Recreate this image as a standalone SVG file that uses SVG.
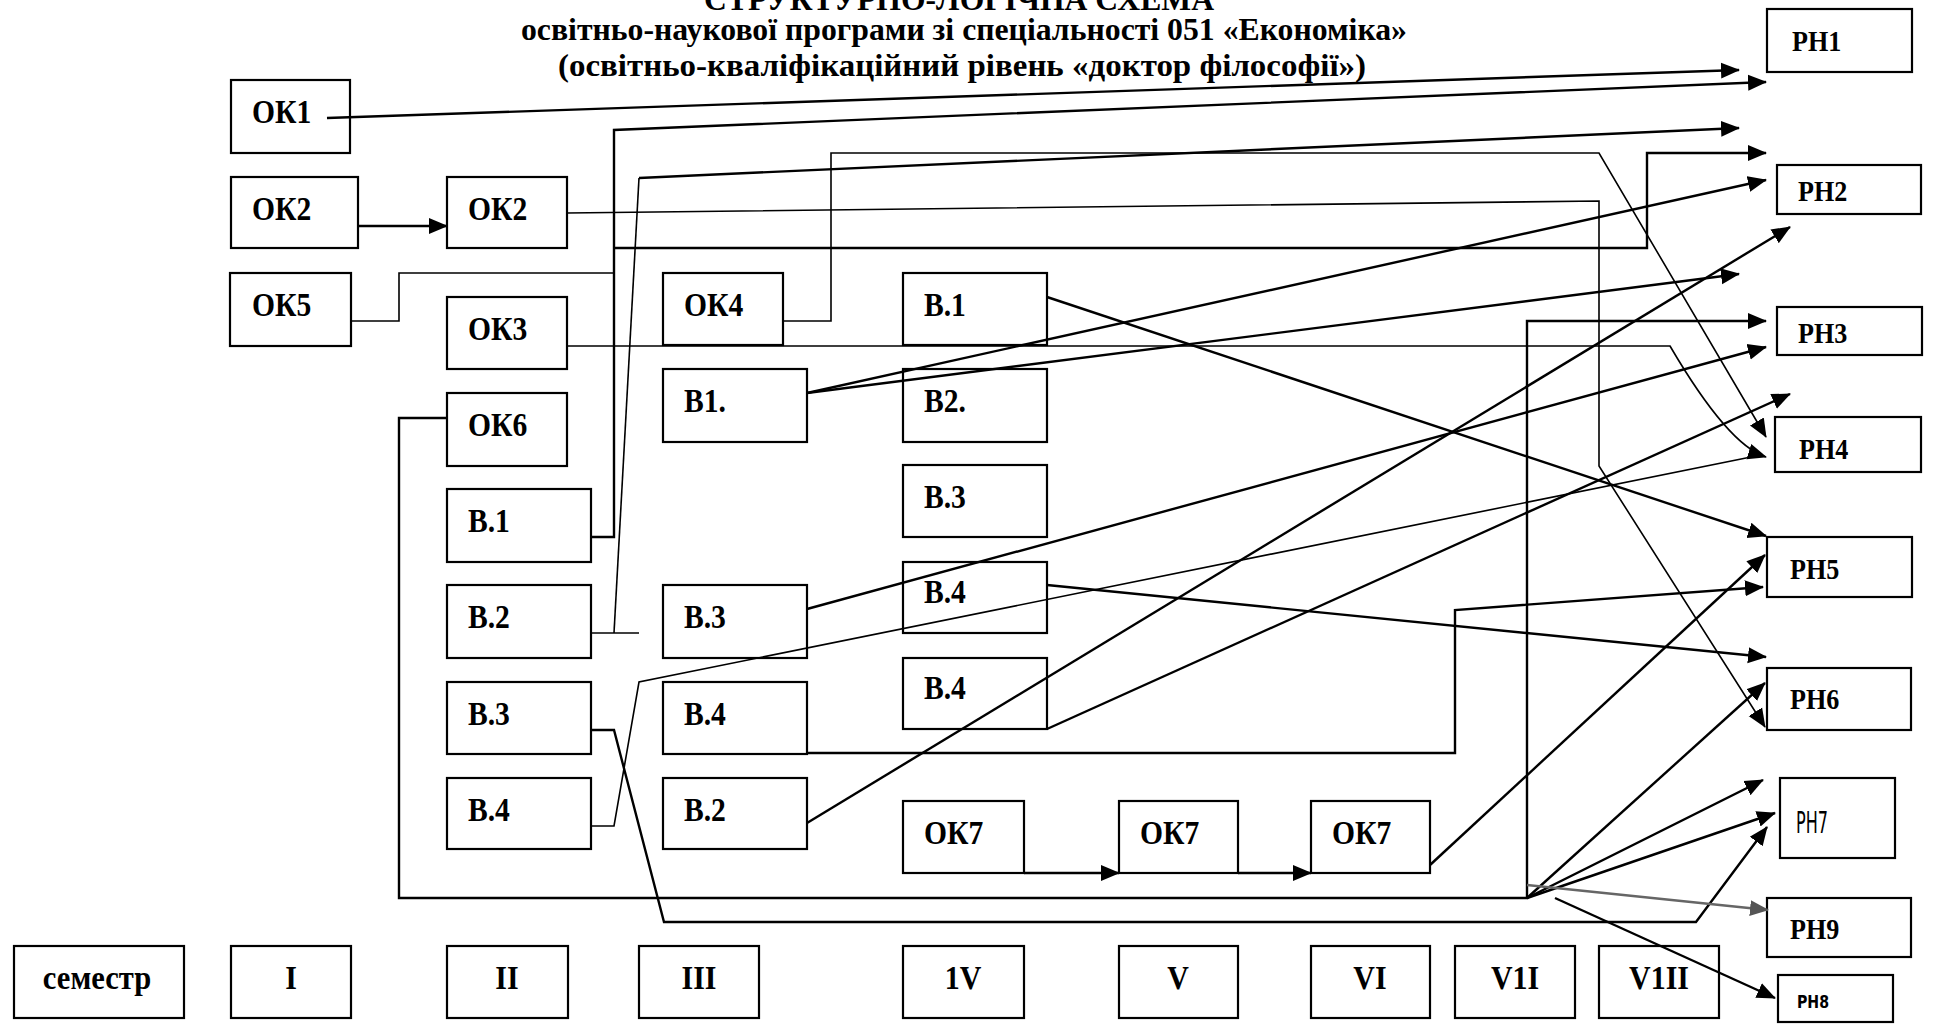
<svg xmlns="http://www.w3.org/2000/svg" width="1935" height="1024" viewBox="0 0 1935 1024">
<style>
.bx{fill:none;stroke:#000;stroke-width:2.2}
.lb{font-family:"Liberation Serif","Times New Roman",serif;font-weight:bold;font-size:34px;fill:#000}
.rh{font-family:"Liberation Serif","Times New Roman",serif;font-weight:bold;font-size:29px;fill:#000}
.sm{font-family:"Liberation Serif","Times New Roman",serif;font-weight:bold;font-size:34px;fill:#000;text-anchor:middle}
.tt{font-family:"Liberation Serif","Times New Roman",serif;font-weight:bold;font-size:31px;fill:#000}
.c{fill:none;stroke:#000;stroke-width:2.4}
.t{fill:none;stroke:#000;stroke-width:1.6}
.a{marker-end:url(#ah)}
</style>
<defs>
<marker id="ah" markerWidth="20" markerHeight="18" refX="18" refY="9" orient="auto" markerUnits="userSpaceOnUse"><path d="M0,1 L19,9 L0,17 Z" fill="#000"/></marker>
<marker id="ahg" markerWidth="20" markerHeight="18" refX="18" refY="9" orient="auto" markerUnits="userSpaceOnUse"><path d="M0,1 L19,9 L0,17 Z" fill="#555"/></marker>
</defs>
<rect width="1935" height="1024" fill="#fff"/>
<g id="title">
<text class="tt" x="704" y="10" textLength="510" lengthAdjust="spacingAndGlyphs">СТРУКТУРНО-ЛОГІЧНА СХЕМА</text>
<text class="tt" x="521" y="40" textLength="886" lengthAdjust="spacingAndGlyphs">освітньо-наукової програми зі спеціальності 051 «Економіка»</text>
<text class="tt" x="558" y="76" textLength="808" lengthAdjust="spacingAndGlyphs">(освітньо-кваліфікаційний рівень «доктор філософії»)</text>
</g>
<g id="ok1"><rect class="bx" x="231" y="80" width="119" height="73"/><text class="lb" transform="translate(252,123) scale(0.87,1)">ОК1</text></g>
<g id="ok2a"><rect class="bx" x="231" y="177" width="127" height="71"/><text class="lb" transform="translate(252,220) scale(0.87,1)">ОК2</text></g>
<g id="ok5"><rect class="bx" x="230" y="273" width="121" height="73"/><text class="lb" transform="translate(252,316) scale(0.87,1)">ОК5</text></g>
<g id="ok2b"><rect class="bx" x="447" y="177" width="120" height="71"/><text class="lb" transform="translate(468,220) scale(0.87,1)">ОК2</text></g>
<g id="ok3"><rect class="bx" x="447" y="297" width="120" height="72"/><text class="lb" transform="translate(468,340) scale(0.87,1)">ОК3</text></g>
<g id="ok6"><rect class="bx" x="447" y="393" width="120" height="73"/><text class="lb" transform="translate(468,436) scale(0.87,1)">ОК6</text></g>
<g id="b1a"><rect class="bx" x="447" y="489" width="144" height="73"/><text class="lb" transform="translate(468,532) scale(0.87,1)">В.1</text></g>
<g id="b2a"><rect class="bx" x="447" y="585" width="144" height="73"/><text class="lb" transform="translate(468,628) scale(0.87,1)">В.2</text></g>
<g id="b3a"><rect class="bx" x="447" y="682" width="144" height="72"/><text class="lb" transform="translate(468,725) scale(0.87,1)">В.3</text></g>
<g id="b4a"><rect class="bx" x="447" y="778" width="144" height="71"/><text class="lb" transform="translate(468,821) scale(0.87,1)">В.4</text></g>
<g id="ok4"><rect class="bx" x="663" y="273" width="120" height="72"/><text class="lb" transform="translate(684,316) scale(0.87,1)">ОК4</text></g>
<g id="b1c"><rect class="bx" x="663" y="369" width="144" height="73"/><text class="lb" transform="translate(684,412) scale(0.87,1)">В1.</text></g>
<g id="b3c"><rect class="bx" x="663" y="585" width="144" height="73"/><text class="lb" transform="translate(684,628) scale(0.87,1)">В.3</text></g>
<g id="b4c"><rect class="bx" x="663" y="682" width="144" height="72"/><text class="lb" transform="translate(684,725) scale(0.87,1)">В.4</text></g>
<g id="b2c"><rect class="bx" x="663" y="778" width="144" height="71"/><text class="lb" transform="translate(684,821) scale(0.87,1)">В.2</text></g>
<g id="b1d"><rect class="bx" x="903" y="273" width="144" height="72"/><text class="lb" transform="translate(924,316) scale(0.87,1)">В.1</text></g>
<g id="b2d"><rect class="bx" x="903" y="369" width="144" height="73"/><text class="lb" transform="translate(924,412) scale(0.87,1)">В2.</text></g>
<g id="b3d"><rect class="bx" x="903" y="465" width="144" height="72"/><text class="lb" transform="translate(924,508) scale(0.87,1)">В.3</text></g>
<g id="b4d1"><rect class="bx" x="903" y="562" width="144" height="71"/><text class="lb" transform="translate(924,603) scale(0.87,1)">В.4</text></g>
<g id="b4d2"><rect class="bx" x="903" y="658" width="144" height="71"/><text class="lb" transform="translate(924,699) scale(0.87,1)">В.4</text></g>
<g id="ok7a"><rect class="bx" x="903" y="801" width="121" height="72"/><text class="lb" transform="translate(924,844) scale(0.87,1)">ОК7</text></g>
<g id="ok7b"><rect class="bx" x="1119" y="801" width="119" height="72"/><text class="lb" transform="translate(1140,844) scale(0.87,1)">ОК7</text></g>
<g id="ok7c"><rect class="bx" x="1311" y="801" width="119" height="72"/><text class="lb" transform="translate(1332,844) scale(0.87,1)">ОК7</text></g>
<g id="rh1"><rect class="bx" x="1767" y="9" width="145" height="63"/><text class="rh" transform="translate(1792,51) scale(0.9,1)">РН1</text></g>
<g id="rh2"><rect class="bx" x="1777" y="165" width="144" height="49"/><text class="rh" transform="translate(1798,201) scale(0.9,1)">РН2</text></g>
<g id="rh3"><rect class="bx" x="1777" y="307" width="145" height="48"/><text class="rh" transform="translate(1798,343) scale(0.9,1)">РН3</text></g>
<g id="rh4"><rect class="bx" x="1775" y="417" width="146" height="55"/><text class="rh" transform="translate(1799,459) scale(0.9,1)">РН4</text></g>
<g id="rh5"><rect class="bx" x="1767" y="537" width="145" height="60"/><text class="rh" transform="translate(1790,579) scale(0.9,1)">РН5</text></g>
<g id="rh6"><rect class="bx" x="1767" y="668" width="144" height="62"/><text class="rh" transform="translate(1790,709) scale(0.9,1)">РН6</text></g>
<g id="rh7"><rect class="bx" x="1780" y="778" width="115" height="80"/><text x="1796" y="833" font-family="'DejaVu Sans Condensed','DejaVu Sans',sans-serif" font-size="30" textLength="32" lengthAdjust="spacingAndGlyphs" fill="#000">РН7</text></g>
<g id="rh9"><rect class="bx" x="1767" y="898" width="144" height="59"/><text class="rh" transform="translate(1790,939) scale(0.9,1)">РН9</text></g>
<g id="rh8"><rect class="bx" x="1778" y="975" width="115" height="47"/><text x="1797" y="1008" font-family="'DejaVu Sans',sans-serif" font-weight="bold" font-size="18" textLength="32" lengthAdjust="spacingAndGlyphs" fill="#000">РН8</text></g>
<g id="semesters">
<g id="s0"><rect class="bx" x="14" y="946" width="170" height="72"/><text class="sm" transform="translate(97,989) scale(0.9,1)">семестр</text></g>
<g id="s1"><rect class="bx" x="231" y="946" width="120" height="72"/><text class="sm" transform="translate(291,989) scale(0.88,1)">I</text></g>
<g id="s2"><rect class="bx" x="447" y="946" width="121" height="72"/><text class="sm" transform="translate(507,989) scale(0.88,1)">II</text></g>
<g id="s3"><rect class="bx" x="639" y="946" width="120" height="72"/><text class="sm" transform="translate(699,989) scale(0.88,1)">III</text></g>
<g id="s4"><rect class="bx" x="903" y="946" width="121" height="72"/><text class="sm" transform="translate(963,989) scale(0.88,1)">1V</text></g>
<g id="s5"><rect class="bx" x="1119" y="946" width="119" height="72"/><text class="sm" transform="translate(1178,989) scale(0.88,1)">V</text></g>
<g id="s6"><rect class="bx" x="1311" y="946" width="119" height="72"/><text class="sm" transform="translate(1370,989) scale(0.88,1)">VI</text></g>
<g id="s7"><rect class="bx" x="1455" y="946" width="120" height="72"/><text class="sm" transform="translate(1515,989) scale(0.88,1)">V1I</text></g>
<g id="s8"><rect class="bx" x="1599" y="946" width="120" height="72"/><text class="sm" transform="translate(1659,989) scale(0.88,1)">V1II</text></g>
</g>
<g id="connectors">
<path class="c a" d="M327,118 L1739,70"/>
<path class="c a" d="M591,537 H614 V130 L1766,82"/>
<path class="t" d="M591,633 H639"/>
<path class="t" d="M614,633 L639,178"/>
<path class="c a" d="M639,178 L1739,128"/>
<path class="t" d="M351,321 H399 V273 H614 V248"/>
<path class="c a" d="M614,248 H1647 V153 H1766"/>
<path class="t a" d="M567,213 L1599,201 V466 L1765,727"/>
<path class="t a" d="M783,321 H831 V153 H1599 L1766,437"/>
<path class="t a" d="M567,346 H1670 Q1728,445 1766,457"/>
<path class="c a" d="M807,393 L1766,180"/>
<path class="c a" d="M807,393 L1739,274"/>
<path class="c a" d="M1047,297 L1766,536"/>
<path class="c a" d="M1047,585 L1766,657"/>
<path class="c a" d="M1047,729 L1790,394"/>
<path class="c a" d="M807,609 L1766,347"/>
<path class="c a" d="M807,753 H1455 V610 L1763,587"/>
<path class="c a" d="M807,823 L1790,227"/>
<path class="t" d="M591,826 H614 L639,682 L1751,457"/>
<path class="c a" d="M591,730 H614 L664,922 H1696 L1767,827"/>
<path class="c a" d="M447,418 H399 V898 H1527 V321 H1766"/>
<path class="c a" d="M1527,898 L1765,683"/>
<path class="c a" d="M1527,898 L1763,780"/>
<path class="c a" d="M1527,898 L1775,813"/>
<path d="M1527,885 L1768,910" fill="none" stroke="#666" stroke-width="2.4" marker-end="url(#ahg)"/>
<path class="c a" d="M1555,898 L1775,998"/>
<path class="c a" d="M1024,873 H1119"/>
<path class="c a" d="M1238,873 H1311"/>
<path class="c a" d="M1430,865 L1765,555"/>
<path class="c a" d="M358,226 H447"/>
</g>
</svg>
